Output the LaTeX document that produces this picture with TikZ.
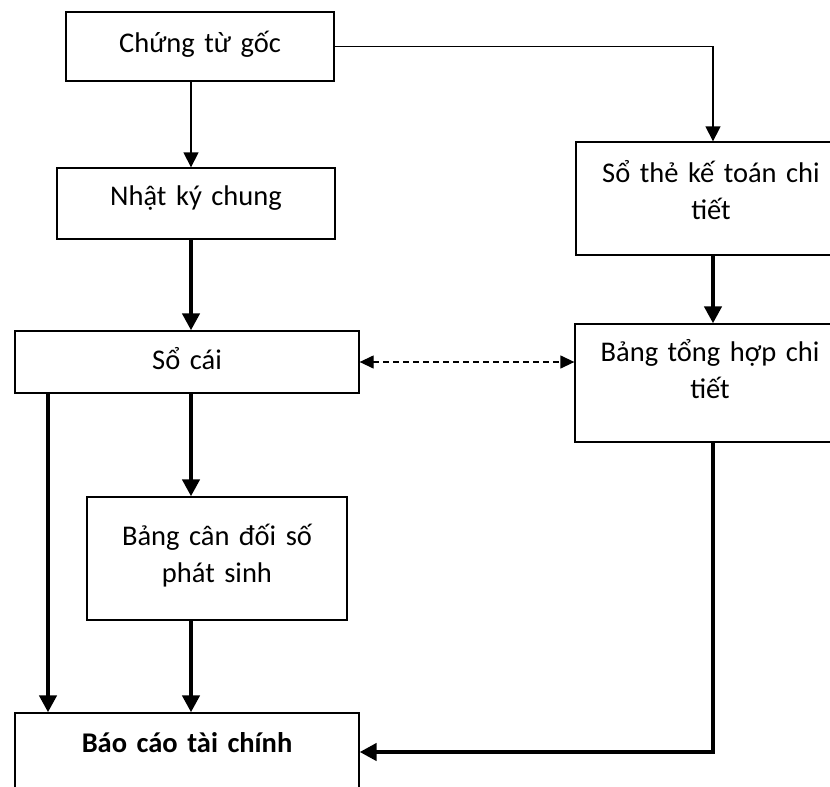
\documentclass[tikz,border=0pt]{standalone}
\usepackage{fontspec}
\setmainfont{Carlito}[WordSpace=0.8]
\usepackage{tikz}
\usetikzlibrary{arrows.meta}

\begin{document}
\begin{tikzpicture}[
        x=1pt, y=-1pt,
        font=\fontsize{28.5}{37}\selectfont,
        box/.style={draw, line width=1.3pt, rectangle, align=center, inner xsep=0pt, inner ysep=0pt, anchor=base},
        thin arrow/.style={draw, line width=1.3pt, -{Triangle[length=15pt,width=15pt]}},
        thick arrow/.style={draw, line width=4.8pt, -{Triangle[length=17pt,width=17pt]}},
        dash arrow/.style={draw, line width=1.3pt, dash pattern=on 6pt off 4pt,
            {Triangle[length=14pt,width=13pt]}-{Triangle[length=14pt,width=13pt]}}
    ]
        \useasboundingbox (0,0) rectangle (830,787);
        \clip (0,0) rectangle (830,787);

        % columns of the connectors
        \coordinate (lcol) at (48,0);
        \coordinate (midcol) at (191,0);
        \coordinate (rcol) at (713,0);

        \node[box, text width=268pt, text height=40pt, text depth=29pt] (goc) at (200,52) {Chứng từ gốc};
        \node[box, text width=278pt, text height=37pt, text depth=34pt] (nkc) at (196,205) {Nhật ký chung};
        \node[box, text width=270pt, text height=40pt, text depth=73pt] (sothe) at (711,182) {Sổ thẻ kế toán chi\\ tiết};
        \node[box, text width=344pt, text height=38pt, text depth=24pt] (socai) at (187,369) {Sổ cái};
        \node[box, text width=270pt, text height=37pt, text depth=81pt] (tonghop) at (710,361) {Bảng tổng hợp chi\\ tiết};
        \node[box, text width=260pt, text height=48pt, text depth=75pt] (candoi) at (217,545) {Bảng cân đối số\\ phát sinh};
        \node[box, text width=344pt, text height=39pt, text depth=48pt] (baocao) at (187,752) {\textbf{Báo cáo tài chính}};

        \draw[thin arrow] (goc.south -| midcol) -- (nkc.north -| midcol);
        \draw[thin arrow] (goc.east) -| (sothe.north -| rcol);
        \draw[thick arrow] (nkc.south -| midcol) -- (socai.north -| midcol);
        \draw[thick arrow] (sothe.south -| rcol) -- (tonghop.north -| rcol);
        \draw[dash arrow] (socai.east) -- (socai.east -| tonghop.west);

        \draw[thick arrow] (socai.south -| lcol) -- (baocao.north -| lcol);
        \draw[thick arrow] (socai.south -| midcol) -- (candoi.north -| midcol);
        \draw[thick arrow] (candoi.south -| midcol) -- (baocao.north -| midcol);
        \draw[thick arrow] (tonghop.south -| rcol) |- (baocao.base east);
    \end{tikzpicture}
\end{document}
